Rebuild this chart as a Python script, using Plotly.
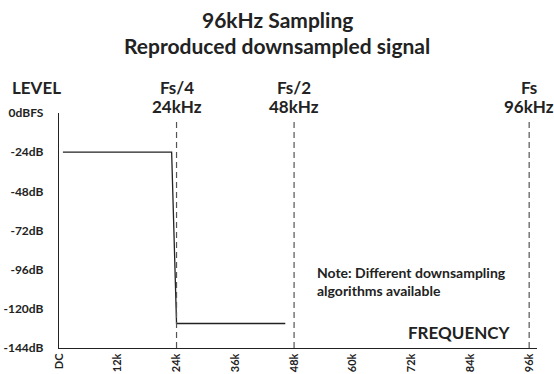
import plotly.graph_objects as go

# Data
freq_k = [0.8, 23.0, 24.0, 46.2]
level_db = [-24, -24, -129, -129]
x_tick_vals = [0, 12, 24, 36, 48, 60, 72, 84, 96]
x_tick_text = ["DC", "12k", "24k", "36k", "48k", "60k", "72k", "84k", "96k"]
y_tick_vals = [0, -24, -48, -72, -96, -120, -144]
y_tick_text = ["0dBFS", "-24dB", "-48dB", "-72dB", "-96dB", "-120dB", "-144dB"]
marker_freqs = [24, 48, 96]
marker_top = ["Fs/4", "Fs/2", "Fs"]
marker_bottom = ["24kHz", "48kHz", "96kHz"]

FONT = "Lato"
INK = "#222222"

W, H = 554, 374
ML, MR, MT, MB = 59, 17, 113, 26
plot_h = H - MT - MB


def paper_y(px):
    return (H - MB - px) / plot_h


fig = go.Figure()
fig.add_trace(go.Scatter(x=freq_k, y=level_db, mode="lines",
                         line=dict(color=INK, width=1.3), hoverinfo="skip",
                         showlegend=False))

for f, t1, t2 in zip(marker_freqs, marker_top, marker_bottom):
    fig.add_shape(type="line", xref="x", yref="y", x0=f, x1=f, y0=-144, y1=-4,
                  line=dict(color="#555555", width=1.2, dash="6px,4px"))
    fig.add_annotation(x=f, y=paper_y(88), xref="x", yref="paper", yanchor="middle",
                       text="<b>%s</b>" % t1, showarrow=False,
                       font=dict(family=FONT, size=17, color=INK))
    fig.add_annotation(x=f, y=paper_y(107), xref="x", yref="paper", yanchor="middle",
                       text="<b>%s</b>" % t2, showarrow=False,
                       font=dict(family=FONT, size=17, color=INK))

fig.add_annotation(x=(10 - ML) / (W - ML - MR), y=paper_y(88), xref="paper", yref="paper",
                   xanchor="left", yanchor="middle", text="<b>LEVEL</b>", showarrow=False,
                   font=dict(family=FONT, size=17, color=INK))

fig.add_annotation(x=(277 - ML) / (W - ML - MR), y=paper_y(19), xref="paper", yref="paper",
                   yanchor="middle", text="<b>96kHz Sampling</b>", showarrow=False,
                   font=dict(family=FONT, size=21, color=INK))
fig.add_annotation(x=(277 - ML) / (W - ML - MR), y=paper_y(45), xref="paper", yref="paper",
                   yanchor="middle", text="<b>Reproduced downsampled signal</b>", showarrow=False,
                   font=dict(family=FONT, size=21, color=INK))

fig.add_annotation(x=52.3, y=-91, xref="x", yref="y", xanchor="left", yanchor="top",
                   text="<b>Note: Different downsampling</b><br><b>algorithms available</b>",
                   showarrow=False, align="left",
                   font=dict(family=FONT, size=14, color=INK))

fig.add_annotation(x=92.7, y=-134.8, xref="x", yref="y", xanchor="right", yanchor="middle",
                   text="<b>FREQUENCY</b>", showarrow=False,
                   font=dict(family=FONT, size=17, color=INK))

fig.update_layout(
    width=W, height=H,
    margin=dict(l=ML, r=MR, t=MT, b=MB),
    paper_bgcolor="white", plot_bgcolor="white",
    xaxis=dict(range=[0, 97.6], tickvals=x_tick_vals, ticktext=["<b>%s</b>" % t for t in x_tick_text],
               tickangle=-90, showgrid=False, zeroline=False, showline=True, automargin=False,
               linecolor=INK, linewidth=1.3, ticks="", ticklabelstandoff=0,
               tickfont=dict(family=FONT, size=11, color=INK)),
    yaxis=dict(range=[-144, 0], tickvals=y_tick_vals, ticktext=["<b>%s</b>" % t for t in y_tick_text],
               showgrid=False, zeroline=False, showline=True, automargin=False,
               linecolor=INK, linewidth=1.3, ticks="", ticklabelstandoff=12,
               tickfont=dict(family=FONT, size=12, color=INK)),
)

fig.write_html("out.html", config={"displayModeBar": False},
               post_script="document.body.style.margin='0';document.body.style.padding='0';")
